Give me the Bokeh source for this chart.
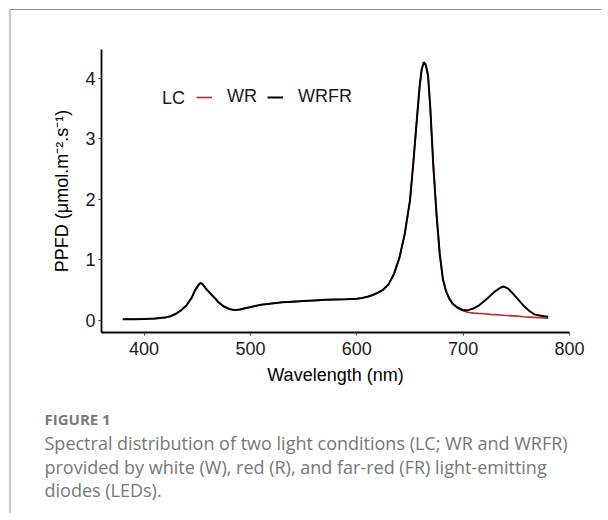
from bokeh.plotting import figure
from bokeh.models import Range1d, Legend, LegendItem, Label, FixedTicker, Title
from bokeh.embed import file_html
from bokeh.resources import INLINE

# ---- data ----
wavelength = [380, 390, 400, 410, 420, 425, 430, 435, 440, 445,
              448, 451, 453, 455, 458, 462, 466, 470, 475, 480,
              485, 490, 495, 500, 510, 520, 530, 540, 550, 560,
              570, 580, 590, 600, 605, 610, 615, 620, 625, 630,
              635, 640, 645, 650, 653, 656, 659, 661, 663, 665,
              667, 669, 672, 675, 678, 681, 684, 687, 690, 695,
              700, 705, 710, 715, 720, 725, 730, 735, 738, 742,
              747, 752, 757, 762, 767, 772, 776, 780]

wrfr = [0.02, 0.02, 0.025, 0.03, 0.05, 0.07, 0.11, 0.17, 0.25, 0.38,
        0.50, 0.58, 0.62, 0.60, 0.53, 0.45, 0.38, 0.30, 0.23, 0.19,
        0.17, 0.18, 0.20, 0.22, 0.26, 0.28, 0.30, 0.31, 0.32, 0.33,
        0.34, 0.345, 0.35, 0.36, 0.37, 0.39, 0.42, 0.46, 0.51, 0.60,
        0.77, 1.03, 1.42, 1.98, 2.57, 3.22, 3.85, 4.15, 4.27, 4.22,
        4.05, 3.55, 2.55, 1.75, 1.10, 0.68, 0.48, 0.36, 0.28, 0.21,
        0.17, 0.17, 0.20, 0.25, 0.32, 0.40, 0.48, 0.54, 0.56, 0.53,
        0.44, 0.34, 0.24, 0.16, 0.10, 0.08, 0.07, 0.06]

wr = [0.02, 0.02, 0.025, 0.03, 0.05, 0.07, 0.11, 0.17, 0.25, 0.38,
      0.50, 0.58, 0.62, 0.60, 0.53, 0.45, 0.38, 0.30, 0.23, 0.19,
      0.17, 0.18, 0.20, 0.22, 0.26, 0.28, 0.30, 0.31, 0.32, 0.33,
      0.34, 0.345, 0.35, 0.36, 0.37, 0.39, 0.42, 0.46, 0.51, 0.60,
      0.77, 1.03, 1.42, 1.98, 2.57, 3.22, 3.85, 4.15, 4.27, 4.22,
      4.05, 3.55, 2.55, 1.75, 1.10, 0.68, 0.48, 0.36, 0.28, 0.20,
      0.16, 0.13, 0.12, 0.115, 0.11, 0.10, 0.095, 0.09, 0.085, 0.08,
      0.075, 0.07, 0.06, 0.055, 0.05, 0.045, 0.04, 0.035]

x_ticks = [400, 500, 600, 700, 800]
y_ticks = [0, 1, 2, 3, 4]
legend_title = "LC"
series_names = ["WR", "WRFR"]
x_label = "Wavelength (nm)"
y_label = "PPFD (μmol.m⁻².s⁻¹)"
caption_head = "FIGURE 1"
caption_lines = [
    "Spectral distribution of two light conditions (LC; WR and WRFR)",
    "provided by white (W), red (R), and far-red (FR) light-emitting",
    "diodes (LEDs).",
]

RED = "#c0272d"
AX_FONT = "Liberation Sans"

p = figure(width=592, height=504, output_backend="svg", toolbar_location=None,
           x_range=Range1d(360, 800), y_range=Range1d(-0.2, 4.48),
           min_border_left=90, min_border_right=34, min_border_top=39,
           min_border_bottom=182)
p.grid.visible = False
p.outline_line_color = None
p.background_fill_color = "white"
p.border_fill_color = "white"
p.styles = {"margin-left": "9px", "margin-top": "9px",
            "border-left": "2px solid #c8c8c8", "border-top": "1px solid #8a8a8a"}

r_wr = p.line(wavelength, wr, line_color=RED, line_width=1.6)
r_wrfr = p.line(wavelength, wrfr, line_color="black", line_width=2)

for ax in (p.xaxis[0], p.yaxis[0]):
    ax.axis_line_color = "black"
    ax.axis_line_width = 1.8
    ax.major_tick_line_color = "#444444"
    ax.major_tick_line_width = 1
    ax.major_tick_out = 3
    ax.major_tick_in = 0
    ax.minor_tick_line_color = None
    ax.major_label_text_font = AX_FONT
    ax.major_label_text_font_size = "18px"
    ax.major_label_text_color = "#1a1a1a"
    ax.axis_label_text_font = AX_FONT
    ax.axis_label_text_font_size = "18px"
    ax.axis_label_text_font_style = "normal"
    ax.axis_label_text_color = "black"

p.xaxis[0].ticker = FixedTicker(ticks=x_ticks)
p.yaxis[0].ticker = FixedTicker(ticks=y_ticks)
p.xaxis[0].axis_label = x_label
p.yaxis[0].axis_label = y_label
p.xaxis[0].major_label_standoff = 6
p.yaxis[0].major_label_standoff = 3
p.xaxis[0].axis_label_standoff = 7
p.yaxis[0].axis_label_standoff = 10

legend = Legend(items=[LegendItem(label=series_names[0], renderers=[r_wr]),
                       LegendItem(label=series_names[1], renderers=[r_wrfr])],
                orientation="horizontal", location=(95, 225),
                glyph_width=16, glyph_height=20, label_standoff=15, spacing=10,
                padding=0, margin=0, border_line_color=None,
                background_fill_alpha=0,
                label_text_font=AX_FONT, label_text_font_size="18px",
                label_text_color="#1a1a1a")
p.add_layout(legend)

p.add_layout(Label(x=60.4, y=234.7, x_units="screen", y_units="screen",
                   text=legend_title, text_font=AX_FONT, text_font_size="18px",
                   text_color="#1a1a1a", text_baseline="middle", text_align="left"))

# caption, as titles below the x axis (first one is only a spacer)
p.add_layout(Title(text=" ", standoff=16, text_font_size="1px"), "below")
p.add_layout(Title(text=caption_head, align="left", offset=-57, standoff=0,
                   text_font="Open Sans", text_font_size="15px",
                   text_font_style="bold", text_color="#7a7a7a"), "below")
for i, line in enumerate(caption_lines):
    p.add_layout(Title(text=line, align="left", offset=-57,
                       standoff=0 if i == 0 else -3.5,
                       text_font="Open Sans", text_font_size="18px",
                       text_font_style="normal", text_color="#777777"), "below")

open("out.html", "w").write(file_html(p, INLINE))
